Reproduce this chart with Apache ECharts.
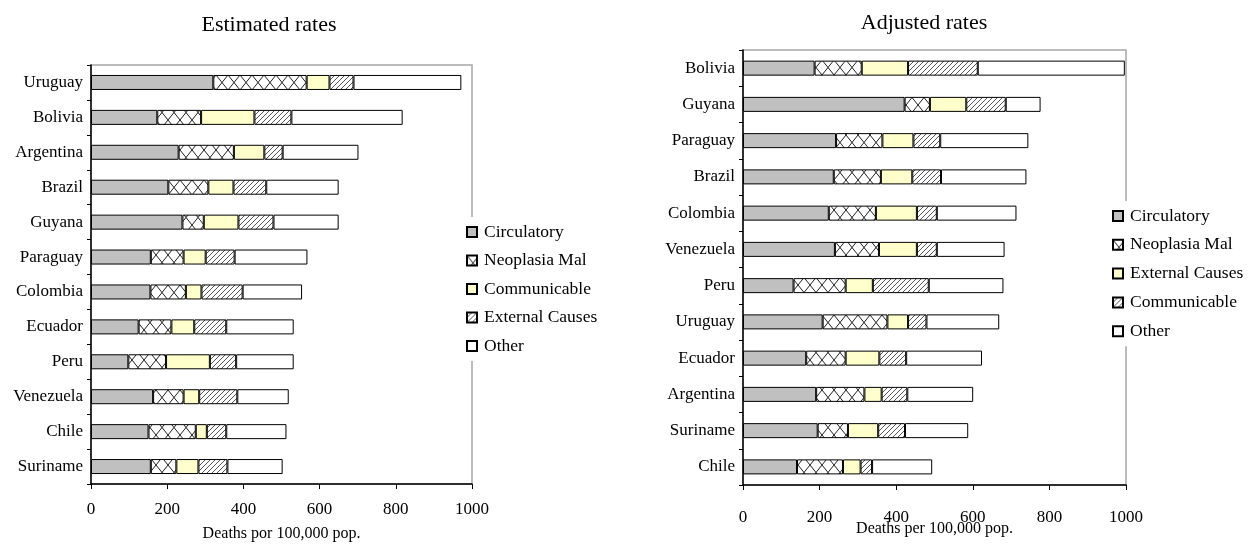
<!DOCTYPE html>
<html>
<head>
<meta charset="utf-8">
<script src="https://cdn.jsdelivr.net/npm/echarts@6/dist/echarts.min.js"></script>
<style>
html,body{margin:0;padding:0;background:#fff;}
#wrap{position:relative;width:1259px;height:544px;}
#left{position:absolute;left:0;top:0;width:630px;height:544px;}
#right{position:absolute;left:630px;top:0;width:629px;height:544px;}
</style>
</head>
<body>
<div id="wrap"><div id="left"></div><div id="right"></div></div>
<script>
// ---- Estimated rates (left) ----
const estCountries = ["Uruguay","Bolivia","Argentina","Brazil","Guyana","Paraguay","Colombia","Ecuador","Peru","Venezuela","Chile","Suriname"];
const estCirculatory = [321,174,230,203,240,157,156,125,98,163,151,157];
const estNeoplasia   = [245,115,145,105,56,86,93,86,99,80,124,67];
const estCommunicable= [60,140,80,66,91,58,41,60,115,41,29,58];
const estExternal    = [63,97,48,86,92,76,108,84,69,100,51,76];
const estOther       = [283,292,199,190,171,191,156,177,151,135,158,145];

// ---- Adjusted rates (right) ----
const adjCountries = ["Bolivia","Guyana","Paraguay","Brazil","Colombia","Venezuela","Peru","Uruguay","Ecuador","Argentina","Suriname","Chile"];
const adjCirculatory = [187,422,243,237,224,240,132,208,165,191,195,141];
const adjNeoplasia   = [123,66,121,123,123,115,136,169,103,126,79,120];
const adjExternal    = [121,95,81,82,107,99,71,54,88,45,79,46];
const adjCommunicable= [182,103,70,75,52,52,146,48,70,67,70,30];
const adjOther       = [384,91,230,223,208,177,195,190,198,172,165,157];

const xTicks = [0,200,400,600,800,1000];

const FONT = "Liberation Serif";

function crossPattern(){
  const c=document.createElement('canvas'); c.width=12; c.height=15;
  const g=c.getContext('2d'); g.fillStyle='#fff'; g.fillRect(0,0,12,15);
  g.strokeStyle='#222'; g.lineWidth=1;
  g.beginPath(); g.moveTo(0,0); g.lineTo(12,15); g.moveTo(12,0); g.lineTo(0,15); g.stroke();
  return {image:c, repeat:'repeat'};
}
function hatchPattern(){
  const s=5;
  const c=document.createElement('canvas'); c.width=s; c.height=s;
  const g=c.getContext('2d'); g.fillStyle='#fff'; g.fillRect(0,0,s,s);
  g.strokeStyle='#444'; g.lineWidth=0.9;
  g.beginPath();
  g.moveTo(0,s); g.lineTo(s,0);
  g.moveTo(-1,1); g.lineTo(1,-1);
  g.moveTo(s-1,s+1); g.lineTo(s+1,s-1);
  g.stroke();
  return {image:c, repeat:'repeat'};
}
const styles = {
  gray: '#c0c0c0',
  cross: crossPattern(),
  yellow: '#ffffcc',
  hatch: hatchPattern(),
  white: '#ffffff'
};

function barSeries(name, data, color){
  return {
    name: name, type:'bar', stack:'total', data: data, barWidth: 15,
    itemStyle:{color: color, borderColor:'#000', borderWidth:1},
    emphasis:{disabled:true}, animation:false
  };
}

function makeOption(cfg){
  return {
    animation:false,
    title:{text:cfg.title, left:cfg.titleX, top:cfg.titleTop, textAlign:'center',
      textStyle:{fontFamily:FONT, fontWeight:'normal', fontSize:22, color:'#000'}},
    grid:{left:cfg.grid.left, top:cfg.grid.top, width:cfg.grid.width, height:cfg.grid.height,
      containLabel:false, outerBoundsMode:'none',
      show:true, borderColor:'#a6a6a6', borderWidth:1.5, backgroundColor:'transparent'},
    legend:{
      orient:'vertical', left:cfg.legendLeft, top:cfg.legendTop,
      backgroundColor:'#fff', padding:[6,4,6,4], itemGap:cfg.legendGap,
      icon:'rect', itemWidth:10, itemHeight:10,
      textStyle:{fontFamily:FONT, fontSize:17.5, color:'#000', padding:[0,0,0,2]},
      data: cfg.legendNames, selectedMode:false
    },
    xAxis:{
      type:'value', min:0, max:1000, interval:200,
      name:cfg.xName, nameLocation:'middle', nameGap:cfg.nameGap, nameMoveOverlap:false,
      nameTextStyle:{fontFamily:FONT, fontSize:16, color:'#000'},
      axisLine:{show:true, lineStyle:{color:'#000', width:1.5}},
      axisTick:{show:true, length:5, lineStyle:{color:'#000'}},
      axisLabel:{fontFamily:FONT, fontSize:17, color:'#000', margin:cfg.labelMargin,
        formatter:function(v){return xTicks.indexOf(v)>=0? String(v):'';}},
      splitLine:{show:false}
    },
    yAxis:{
      type:'category', data:cfg.categories, inverse:true,
      axisLine:{show:true, lineStyle:{color:'#000', width:1.5}},
      axisTick:{show:true, length:4, alignWithLabel:false, lineStyle:{color:'#000'}},
      axisLabel:{fontFamily:FONT, fontSize:17, color:'#000', margin:8},
      splitLine:{show:false}
    },
    series: cfg.series
  };
}

const leftChart = echarts.init(document.getElementById('left'), null, {renderer:'canvas'});
leftChart.setOption(makeOption({
  title:'Estimated rates', titleX:264, titleTop:9,
  grid:{left:91, top:65, width:381, height:419},
  legendLeft:462, legendTop:217, legendGap:10.5,
  legendNames:['Circulatory','Neoplasia Mal','Communicable','External Causes','Other'],
  xName:'Deaths por 100,000 pop.', nameGap:42, labelMargin:17,
  categories: estCountries,
  series:[
    barSeries('Circulatory', estCirculatory, styles.gray),
    barSeries('Neoplasia Mal', estNeoplasia, styles.cross),
    barSeries('Communicable', estCommunicable, styles.yellow),
    barSeries('External Causes', estExternal, styles.hatch),
    barSeries('Other', estOther, styles.white)
  ]
}));

const rightChart = echarts.init(document.getElementById('right'), null, {renderer:'canvas'});
rightChart.setOption(makeOption({
  title:'Adjusted rates', titleX:289, titleTop:7,
  grid:{left:113, top:50, width:383, height:435},
  legendLeft:478, legendTop:201, legendGap:10.8,
  legendNames:['Circulatory','Neoplasia Mal','External Causes','Communicable','Other'],
  xName:'Deaths per 100,000 pop.', nameGap:36, labelMargin:24,
  categories: adjCountries,
  series:[
    barSeries('Circulatory', adjCirculatory, styles.gray),
    barSeries('Neoplasia Mal', adjNeoplasia, styles.cross),
    barSeries('External Causes', adjExternal, styles.yellow),
    barSeries('Communicable', adjCommunicable, styles.hatch),
    barSeries('Other', adjOther, styles.white)
  ]
}));
</script>
</body>
</html>
